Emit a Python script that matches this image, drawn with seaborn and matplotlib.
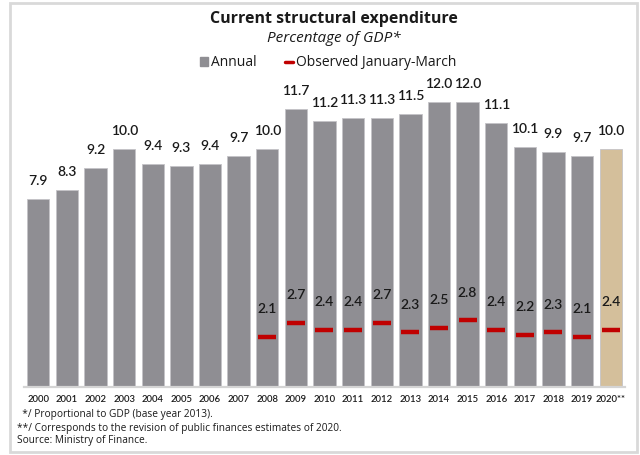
import matplotlib
matplotlib.use("Agg")
import matplotlib.pyplot as plt
from matplotlib.patches import Rectangle
from matplotlib.lines import Line2D
import seaborn as sns
import pandas as pd

years = ["2000", "2001", "2002", "2003", "2004", "2005", "2006", "2007", "2008",
         "2009", "2010", "2011", "2012", "2013", "2014", "2015", "2016", "2017",
         "2018", "2019", "2020**"]
annual = [7.9, 8.3, 9.2, 10.0, 9.4, 9.3, 9.4, 9.7, 10.0, 11.7, 11.2, 11.3, 11.3,
          11.5, 12.0, 12.0, 11.1, 10.1, 9.9, 9.7, 10.0]
q1_years = ["2008", "2009", "2010", "2011", "2012", "2013", "2014", "2015",
            "2016", "2017", "2018", "2019", "2020**"]
q1_values = [2.1, 2.7, 2.4, 2.4, 2.7, 2.3, 2.5, 2.8, 2.4, 2.2, 2.3, 2.1, 2.4]

title = "Current structural expenditure"
subtitle = "Percentage of GDP*"
notes = ["  */ Proportional to GDP (base year 2013).",
         "**/ Corresponds to the revision of public finances estimates of 2020.",
         "Source: Ministry of Finance."]

GREY = "#8f8e93"
BEIGE = "#d4bf9b"
RED = "#c00000"
TEXT = "#1a1a1a"
LABEL_FONT = ["Lato", "DejaVu Sans"]

sns.set_theme(style="white")
plt.rcParams["font.family"] = ["Open Sans", "DejaVu Sans"]

df = pd.DataFrame({"year": years, "annual": annual})
palette = {y: (BEIGE if y.endswith("**") else GREY) for y in years}

fig = plt.figure(figsize=(6.4, 4.55), dpi=100)
ax = fig.add_axes([24 / 640, 68 / 455, 601 / 640, 309 / 455])

sns.barplot(data=df, x="year", y="annual", hue="year", palette=palette,
            legend=False, width=0.78, edgecolor="#c4c3c7", linewidth=0.6,
            saturation=1, ax=ax)

# first-quarter markers
pos = {y: i for i, y in enumerate(years)}
qx = [pos[y] for y in q1_years]
ax.plot(qx, q1_values, ls="none", marker="_", ms=13.5, mew=3.2, color=RED,
        zorder=3)

for i, v in enumerate(annual):
    ax.annotate(f"{v:.1f}", (i, v), xytext=(0, 13), textcoords="offset points",
                ha="center", va="center", fontsize=10, fontweight="semibold",
                family=LABEL_FONT, color=TEXT)
for x, v in zip(qx, q1_values):
    ax.annotate(f"{v:.1f}", (x, v), xytext=(0, 20), textcoords="offset points",
                ha="center", va="center", fontsize=10, fontweight="semibold",
                family=LABEL_FONT, color=TEXT)

ax.set_xlim(-0.5, len(years) - 0.5)
ax.set_ylim(0, 13)
ax.set_xlabel("")
ax.set_ylabel("")
ax.set_yticks([])
ax.tick_params(axis="x", length=0, pad=6, labelsize=6.8, labelcolor=TEXT)
for lbl in ax.get_xticklabels():
    lbl.set_fontweight("semibold")
    lbl.set_family(LABEL_FONT)
for side in ["top", "right", "left"]:
    ax.spines[side].set_visible(False)
ax.spines["bottom"].set_color("#d4d4d4")
ax.spines["bottom"].set_linewidth(1.6)
ax.patch.set_alpha(0)

cx = 334 / 640
fig.text(cx, 1 - 19 / 455, title, ha="center", va="center", fontsize=11.5,
         fontweight="bold", color=TEXT)
fig.text(cx, 1 - 39 / 455, subtitle, ha="center", va="center", fontsize=11,
         style="italic", color=TEXT)

handles = [Rectangle((0, 0), 1, 1, color=GREY),
           Line2D([0], [0], color=RED, lw=2.5)]
fig.legend(handles, ["Annual", "Observed January-March"], ncol=2,
           loc="center", bbox_to_anchor=(328 / 640, 1 - 63 / 455),
           frameon=False, fontsize=10, handlelength=0.6, handleheight=0.6,
           handletextpad=0.2, columnspacing=2.0, labelcolor=TEXT)

note_y = [415, 429, 441]
for txt, y in zip(notes, note_y):
    fig.text(17 / 640, 1 - y / 455, txt, ha="left", va="center",
             fontsize=7.3, color=TEXT)

fig.patches.append(Rectangle((10 / 640, 3 / 455), 627 / 640, 449 / 455,
                             transform=fig.transFigure, fill=False,
                             edgecolor="#d9d9d9", linewidth=2))

fig.savefig("out.png", dpi=100)
